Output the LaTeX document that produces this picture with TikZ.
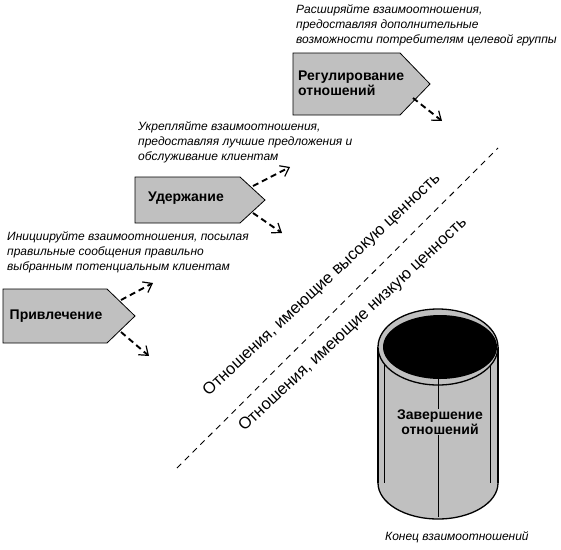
\documentclass[tikz,border=0pt]{standalone}
\usepackage{fontspec}
\setmainfont{Liberation Sans}
\usetikzlibrary{arrows.meta}
\definecolor{boxgray}{RGB}{192,192,192}
\begin{document}
\begin{tikzpicture}[x=1pt,y=-1pt,
  stagebox/.style={draw=black, line width=0.8pt, fill=boxgray, line join=miter},
  stagelabel/.style={font=\fontsize{14}{14.5}\selectfont\bfseries, inner sep=0pt, align=left},
  note/.style={font=\fontsize{12}{15}\selectfont\itshape, inner sep=0pt, align=left, anchor=west},
  darr/.style={line width=1.9pt, dash pattern=on 6pt off 4pt, -{Straight Barb[length=8pt,width=12pt,line width=1.2pt]}},
  diag/.style={line width=0.9pt, dash pattern=on 6pt off 5pt},
  divtext/.style={font=\fontsize{16.5}{18}\selectfont, rotate=43, inner sep=0pt},
  cylline/.style={line width=1.3pt},
  thinline/.style={line width=0.7pt}]
\useasboundingbox (0,0) rectangle (561,549);

% notes
\node[note] (n3) at (296,25) {Расширяйте взаимоотношения,\\предоставляя дополнительные\\возможности потребителям целевой группы};
\node[note] (n2) at (138,142) {Укрепляйте взаимоотношения,\\предоставляя лучшие предложения и\\обслуживание клиентам};
\node[note] (n1) at (7,252) {Инициируйте взаимоотношения, посылая\\правильные сообщения правильно\\выбранным потенциальным клиентам};

% stage boxes
\draw[stagebox] (3,289) -- (107,289) -- (135,316) -- (107,343) -- (3,343) -- cycle;
\node[stagelabel] (s1) at (56,316) {Привлечение};
\draw[stagebox] (135,177) -- (240,177) -- (265,200) -- (240,223) -- (135,223) -- cycle;
\node[stagelabel] (s2) at (186,198) {Удержание};
\draw[stagebox] (293,53) -- (400,53) -- (430,84) -- (400,115) -- (293,115) -- cycle;
\node[stagelabel, anchor=west] (s3) at (298,83) {Регулирование\\отношений};

% arrows
\coordinate (a1s) at (121,300); \coordinate (a1e) at (153,283);
\coordinate (b1s) at (121,332); \coordinate (b1e) at (149,356);
\coordinate (a2s) at (253,186); \coordinate (a2e) at (290,167);
\coordinate (b2s) at (253,213); \coordinate (b2e) at (282,233);
\coordinate (b3s) at (413,98);  \coordinate (b3e) at (442,121);
\draw[darr] (a1s) -- (a1e);
\draw[darr] (b1s) -- (b1e);
\draw[darr] (a2s) -- (a2e);
\draw[darr] (b2s) -- (b2e);
\draw[darr] (b3s) -- (b3e);

% diagonal divider
\coordinate (d1) at (177,468); \coordinate (d2) at (498,148);
\draw[diag] (d1) -- (d2);
\node[divtext] (hv) at (322,285) {Отношения, имеющие высокую ценность};
\node[divtext] (lv) at (353,325) {Отношения, имеющие низкую ценность};

% cylinder
\fill[boxgray] (378,347) rectangle (498,483);
\fill[boxgray] (438,483) ellipse [x radius=60pt, y radius=36pt];
\begin{scope}
  \clip (370,483) rectangle (506,530);
  \draw[cylline] (438,483) ellipse [x radius=60pt, y radius=36pt];
\end{scope}
\draw[cylline] (378,347) -- (378,483);
\draw[cylline] (498,347) -- (498,483);
\draw[thinline] (384,363) -- (384,483);
\draw[thinline] (490,363) -- (490,483);
\draw[cylline, fill=boxgray] (438,347) ellipse [x radius=60pt, y radius=38pt];
\fill[black] (440,347) ellipse [x radius=57pt, y radius=32pt];
\draw[thinline] (438,379) -- (438,517);
\node[stagelabel, align=center, fill=boxgray, inner sep=1pt] (s4) at (440,422) {Завершение\\отношений};
\node[note] (n4) at (385,537) {Конец взаимоотношений};
\end{tikzpicture}
\end{document}
